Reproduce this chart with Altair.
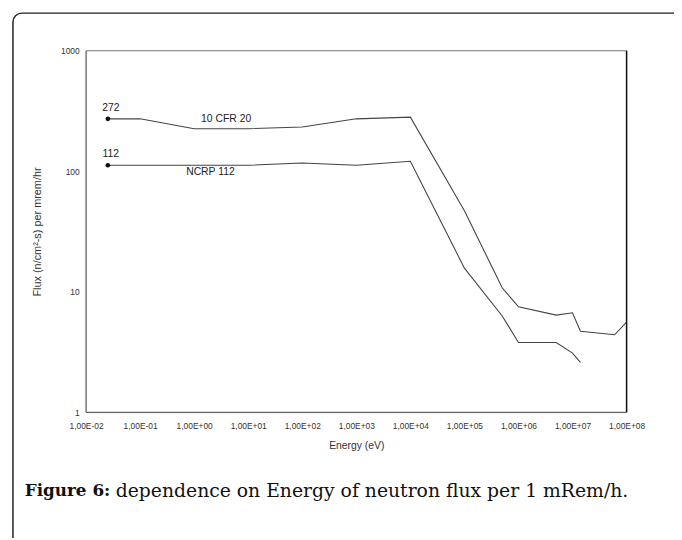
import altair as alt
import pandas as pd

# ---- data ----
cfr_energy = [0.0253, 0.1, 1, 10, 100, 1e3, 1e4, 1e5, 5e5, 1e6, 5e6, 1e7, 1.4e7, 6e7, 1e8]
cfr_flux = [272, 272, 225, 225, 233, 272, 281, 47, 10.8, 7.5, 6.4, 6.7, 4.7, 4.4, 5.6]
ncrp_energy = [0.0253, 0.1, 1, 10, 100, 1e3, 1e4, 1e5, 5e5, 1e6, 5e6, 1e7, 1.4e7]
ncrp_flux = [112, 112, 112, 112, 117, 112, 121, 15.7, 6.3, 3.8, 3.8, 3.1, 2.6]

x_ticks = [1e-2, 1e-1, 1e0, 1e1, 1e2, 1e3, 1e4, 1e5, 1e6, 1e7, 1e8]
x_tick_labels = ["1,00E-02", "1,00E-01", "1,00E+00", "1,00E+01", "1,00E+02", "1,00E+03",
                 "1,00E+04", "1,00E+05", "1,00E+06", "1,00E+07", "1,00E+08"]
y_ticks = [1, 10, 100, 1000]

start_labels = ["272", "112"]
start_energy = [0.0253, 0.0253]
start_flux = [272, 112]

series_names = ["10 CFR 20", "NCRP 112"]
series_label_energy = [3.9, 2.0]
series_label_flux = [272, 98]

caption_bold = "Figure 6:"
caption_rest = "dependence on Energy of neutron flux per 1 mRem/h."

# ---- tables ----
lines = pd.concat([
    pd.DataFrame({"E": cfr_energy, "F": cfr_flux, "s": "10 CFR 20"}),
    pd.DataFrame({"E": ncrp_energy, "F": ncrp_flux, "s": "NCRP 112"}),
])
starts = pd.DataFrame({"E": start_energy, "F": start_flux, "t": start_labels})
names = pd.DataFrame({"E": series_label_energy, "F": series_label_flux, "t": series_names})
one = pd.DataFrame({"a": [0]})

W, H = 547, 366
FONT = "Liberation Sans"

label_js = "[" + ",".join("'%s'" % s for s in x_tick_labels) + "]"

xscale = alt.Scale(type="log", domain=[1e-2, 1e8], nice=False)
yscale = alt.Scale(type="log", domain=[1, 1000], nice=False)

xaxis = alt.Axis(values=x_ticks, labelExpr=label_js + "[round(log(datum.value)/LN10)+2]",
                 title="Energy (eV)", grid=False, domain=False, ticks=False,
                 labelFont=FONT, labelFontSize=8.5, labelColor="#333", labelPadding=9,
                 titleFont=FONT, titleFontSize=10.5, titleFontWeight="normal", titleColor="#333",
                 titlePadding=11, labelFlush=False, labelOverlap=False)
yaxis = alt.Axis(values=y_ticks, format="d", title="Flux (n/cm²-s) per mrem/hr",
                 grid=False, domain=False, ticks=False,
                 labelFont=FONT, labelFontSize=8.5, labelColor="#333", labelPadding=7,
                 titleFont=FONT, titleFontSize=11, titleFontWeight="normal", titleColor="#333",
                 titlePadding=18, labelFlush=False)

base_line = alt.Chart(lines).mark_line(color="#444", strokeWidth=1.1).encode(
    x=alt.X("E:Q", scale=xscale, axis=xaxis),
    y=alt.Y("F:Q", scale=yscale, axis=yaxis),
    detail="s:N",
)

dots = alt.Chart(starts).mark_circle(color="#111", size=22, opacity=1).encode(
    x=alt.X("E:Q", scale=xscale), y=alt.Y("F:Q", scale=yscale))

dot_text = alt.Chart(starts).mark_text(font=FONT, fontSize=10.5, color="#222",
                                       dx=3, dy=-11).encode(
    x=alt.X("E:Q", scale=xscale), y=alt.Y("F:Q", scale=yscale), text="t:N")

name_text = alt.Chart(names).mark_text(font=FONT, fontSize=10.5, color="#222").encode(
    x=alt.X("E:Q", scale=xscale), y=alt.Y("F:Q", scale=yscale), text="t:N")

left_edge = alt.Chart(one).mark_rule(color="#666", strokeWidth=1.3).encode(
    x=alt.value(0), y=alt.value(0), y2=alt.value(H))
bottom_edge = alt.Chart(one).mark_rule(color="#666", strokeWidth=1.3).encode(
    x=alt.value(0), x2=alt.value(W), y=alt.value(H))
top_edge = alt.Chart(one).mark_rule(color="#888", strokeWidth=1).encode(
    x=alt.value(0), x2=alt.value(W), y=alt.value(0))
right_edge = alt.Chart(one).mark_rule(color="#111", strokeWidth=1.5).encode(
    x=alt.value(W), y=alt.value(0), y2=alt.value(H))

frame = alt.Chart(one).mark_rect(fill="white", fillOpacity=0, stroke="#222",
                                 strokeWidth=1.5, cornerRadius=9).encode(
    x=alt.value(-74), x2=alt.value(700), y=alt.value(-38), y2=alt.value(700))

cap1 = alt.Chart(one).mark_text(font="DejaVu Serif", fontSize=17, fontWeight="bold",
                                color="#111", align="left", baseline="middle").encode(
    x=alt.value(-62), y=alt.value(446), text=alt.value(caption_bold))
cap2 = alt.Chart(one).mark_text(font="DejaVu Serif", fontSize=19,
                                color="#111", align="left", baseline="middle").encode(
    x=alt.value(30), y=alt.value(446), text=alt.value(caption_rest))

chart = alt.layer(frame, base_line, dots, dot_text, name_text, left_edge, bottom_edge,
                  top_edge, right_edge, cap1, cap2).properties(
    width=W, height=H,
    autosize=alt.AutoSizeParams(type="none"),
    padding={"left": 79, "top": 40, "right": 48, "bottom": 124},
).configure_view(strokeWidth=0).configure(background="white")

chart.save("out.html", embed_options={"renderer": "svg", "actions": False})
